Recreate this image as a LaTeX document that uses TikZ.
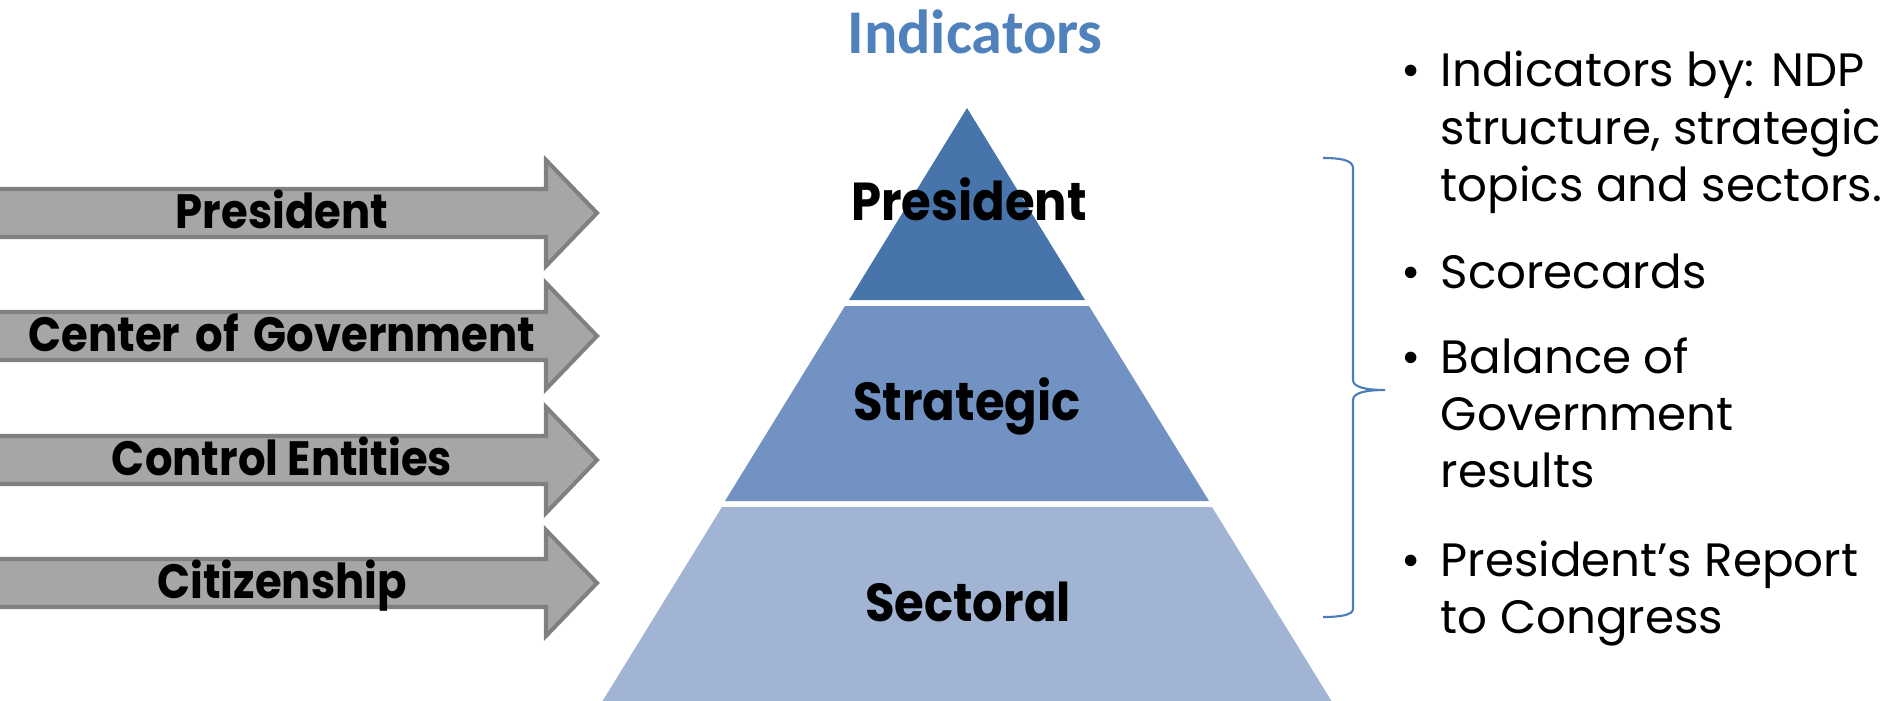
\documentclass[tikz,border=0pt]{standalone}
\usepackage{fontspec}
\setmainfont{Poppins}
\newfontfamily\gothicb{Poppins}[FakeStretch=0.9]
\newfontfamily\calib{Carlito}
\definecolor{tierA}{HTML}{4774AA}
\definecolor{tierB}{HTML}{7192C2}
\definecolor{tierC}{HTML}{A2B4D4}
\definecolor{arrowfill}{HTML}{A6A6A6}
\definecolor{arrowline}{HTML}{808080}
\definecolor{titleblue}{HTML}{4F81BD}
\definecolor{bracecol}{HTML}{4A7EBB}
\begin{document}
\begin{tikzpicture}[x=0.01cm,y=-0.01cm,
  flowarrow/.style={fill=arrowfill, draw=arrowline, line width=1.15pt, line join=miter},
  arrowlabel/.style={font=\gothicb\bfseries\fontsize{13.7}{16}\selectfont, anchor=base, inner sep=0pt},
  tierlabel/.style={font=\gothicb\bfseries\fontsize{15.2}{18}\selectfont, anchor=base, inner sep=0pt},
  itemtext/.style={font=\fontsize{13.3}{16.2}\selectfont, anchor=base west, inner sep=0pt},
  bulletmark/.style={font=\fontsize{13.3}{16.2}\selectfont, anchor=base, inner sep=0pt},
  titletext/.style={font=\calib\bfseries\fontsize{17.7}{20}\selectfont, text=titleblue, anchor=base, inner sep=0pt}
]
\useasboundingbox (0,0) rectangle (1888,700);

% title
\node[titletext] (title) at (975,53) {Indicators};

% arrows
\foreach \c/\nm/\txt in {213/a/President, 336/b/Center\hspace{0.12em} of\hspace{0.12em} Government, 460/c/Control Entities, 583/d/Citizenship}{
  \draw[flowarrow] (-20,\c-24) -- (546,\c-24) -- (546,\c-53) -- (597,\c) -- (546,\c+53) -- (546,\c+24) -- (-20,\c+24) -- cycle;
  \node[arrowlabel] (lab\nm) at (282,\c+15) {\txt};
}

% pyramid
\fill[tierA] (967,108) -- (1085,300) -- (849,300) -- cycle;
\fill[tierB] (845,306) -- (1089,306) -- (1209,501) -- (725,501) -- cycle;
\fill[tierC] (722,507) -- (1212,507) -- (1337,710) -- (597,710) -- cycle;
\node[tierlabel] (tpres) at (969,220) {President};
\node[tierlabel] (tstrat) at (967,420) {Strategic};
\node[tierlabel] (tsect) at (968,621) {Sectoral};

% brace
\draw[bracecol, line width=0.6pt] (1323,158) .. controls (1340,158) and (1353,160) .. (1353,168) -- (1353,380) .. controls (1353,387) and (1365,390) .. (1385,390) .. controls (1365,390) and (1353,393) .. (1353,400) -- (1353,609) .. controls (1353,615) and (1340,617) .. (1323,617);

% bullet list
\node[bulletmark] (b1) at (1411,87) {\textbullet};
\node[itemtext] (l1) at (1440,87) {Indicators by: NDP};
\node[itemtext] (l2) at (1440,144) {structure, strategic};
\node[itemtext] (l3) at (1440,201) {topics and sectors.};
\node[bulletmark] (b2) at (1411,288) {\textbullet};
\node[itemtext] (l4) at (1440,288) {Scorecards};
\node[bulletmark] (b3) at (1411,373) {\textbullet};
\node[itemtext] (l5) at (1440,373) {Balance of};
\node[itemtext] (l6) at (1440,430) {Government};
\node[itemtext] (l7) at (1440,487) {results};
\node[bulletmark] (b4) at (1411,576) {\textbullet};
\node[itemtext] (l8) at (1440,576) {President’s Report};
\node[itemtext] (l9) at (1440,633) {to Congress};
\end{tikzpicture}
\end{document}
